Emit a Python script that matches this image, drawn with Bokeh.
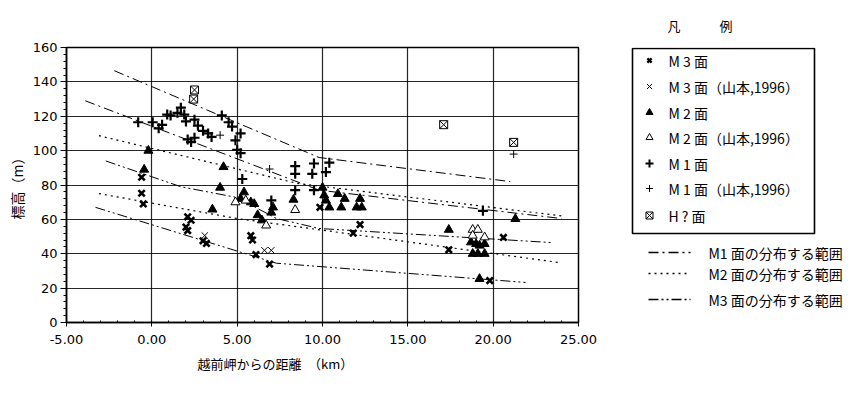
from bokeh.plotting import figure
from bokeh.layouts import row
from bokeh.models import Range1d, FixedTicker, NumeralTickFormatter, Title
from bokeh.core.properties import value
from bokeh.embed import file_html
from bokeh.resources import INLINE

# ---------------- data ----------------
x_ticks = [-5, 0, 5, 10, 15, 20, 25]
x_minor = list(range(-5, 26))
y_ticks = [0, 20, 40, 60, 80, 100, 120, 140, 160]
y_minor = list(range(0, 161, 4))
x_grid = [0, 5, 10, 15, 20]

x_label = "越前岬からの距離　（km）"
y_label = "標高（m）"
legend_title = "凡　　　例"

# M3面 (filled bold x)
m3_x = [-0.6, -0.6, -0.5, 2.1, 2.3, 2.0, 2.1, 3.0, 3.2, 5.8, 5.9, 6.1, 6.9, 9.85, 11.8, 12.2, 17.4, 19.8, 20.6]
m3_y = [84.5, 75.2, 69.0, 61.5, 59.5, 55.5, 53.5, 47.5, 46.0, 50.5, 48.0, 39.5, 34.0, 67.0, 52.0, 57.0, 42.3, 24.4, 49.5]
# M3面（山本,1996）
m3y_x = [3.1, 6.6, 7.0]
m3y_y = [50.6, 42.0, 42.0]
# M2面
m2_x = [-0.2, -0.45, 4.2, 4.0, 3.55, 5.4, 5.2, 5.8, 6.0, 6.2, 6.45, 7.0, 7.1, 8.3, 10.0, 10.1, 10.2, 10.4,
        10.9, 11.3, 11.1, 12.2, 12.0, 12.3, 17.4, 21.3, 18.7, 19.0, 19.2, 19.5, 18.8, 19.1, 19.5, 19.2]
m2_y = [100, 89, 90.5, 78.5, 65.8, 75.8, 72, 70, 69, 62.5, 59.5, 64, 67, 71.5, 78.5, 74, 71, 67,
        74.8, 72, 67, 72, 67, 67, 54, 60.3, 46.7, 45.7, 44.8, 45.7, 40, 40, 40, 25.4]
# M2面（山本,1996）
m2y_x = [4.9, 5.5, 6.7, 8.4, 18.8, 19.1, 19.5, 18.8]
m2y_y = [70, 71, 56.5, 65.5, 54, 54, 49.6, 50.6]
# M1面
m1_x = [-0.8, 0.05, 0.4, 0.6, 0.9, 1.1, 1.5, 1.7, 1.9, 2.0, 2.5, 2.7, 3.0, 2.1, 2.5, 2.3, 3.3, 3.5,
        4.1, 4.5, 4.7, 5.2, 4.9, 5.0, 5.2, 5.3, 7.0, 8.4, 8.4, 8.4, 9.4, 9.5, 9.5, 10.2, 10.4, 19.4]
m1_y = [116.5, 116.5, 113, 115, 121, 120.5, 122, 125, 121, 117, 118, 114.5, 111.5, 106.5, 107.5, 105, 110, 108,
        120.5, 116.5, 114, 110, 106, 100.5, 98.5, 83.5, 71, 91, 86.5, 77, 86.5, 92.5, 77, 87.5, 93, 65]
# M1面（山本,1996）
m1y_x = [4.0, 6.9, 21.2]
m1y_y = [109, 89.3, 98]
# H?面
h_x = [2.45, 2.5, 17.1, 21.2]
h_y = [130, 135.3, 115.1, 104.8]

# ranges (upper / lower bounds)
m1_up_x = [-2.2, 9.8, 21.0]
m1_up_y = [146.5, 96, 82]
m1_lo_x = [-3.9, 9.8, 24.0]
m1_lo_y = [129, 77, 60.5]
m2_up_x = [-3.1, 8.5, 24.0]
m2_up_y = [108.7, 81, 62]
m2_lo_x = [-3.1, 5.0, 23.8]
m2_lo_y = [75, 60.5, 35]
m3_up_x = [-2.7, 1.7, 5.0, 7.3, 9.8, 23.4]
m3_up_y = [94, 79, 72.7, 60.5, 54.7, 46.5]
m3_lo_x = [-3.3, 7.3, 21.9]
m3_lo_y = [67, 34.5, 23.3]

legend_labels = ["M 3 面", "M 3 面（山本,1996）", "M 2 面", "M 2 面（山本,1996）",
                 "M 1 面", "M 1 面（山本,1996）", "H ? 面"]
range_labels = ["M1 面の分布する範囲", "M2 面の分布する範囲", "M3 面の分布する範囲"]

# ---------------- styles ----------------
K = "black"
JP = value("Noto Sans CJK JP")
DASH_M1 = "10 4 2 4"
DASH_M2 = "2 4"
DASH_M3 = "10 3 2 3 2 3"

# ---------------- main plot ----------------
p = figure(frame_width=512, frame_height=275, min_border_left=66, min_border_top=47,
           min_border_right=22, min_border_bottom=52,
           x_range=Range1d(-5, 25), y_range=Range1d(0, 160),
           output_backend="svg", toolbar_location=None, background_fill_color="white")
p.outline_line_color = K
p.outline_line_width = 1.5

p.xaxis.ticker = FixedTicker(ticks=x_ticks, minor_ticks=x_minor)
p.xaxis.formatter = NumeralTickFormatter(format="0.00")
p.yaxis.ticker = FixedTicker(ticks=y_ticks, minor_ticks=y_minor)
for ax in (p.xaxis, p.yaxis):
    ax.major_label_text_font = "DejaVu Sans"
    ax.major_label_text_font_size = "13px"
    ax.major_label_text_color = K
    ax.axis_line_color = K
    ax.axis_line_width = 1.5
    ax.major_tick_line_color = K
    ax.minor_tick_line_color = K
    ax.major_tick_in = 0
p.xaxis.major_tick_out = 4
p.xaxis.minor_tick_in = 2
p.xaxis.minor_tick_out = 0
p.xaxis.major_label_standoff = 8
p.yaxis.major_tick_out = 6
p.yaxis.minor_tick_in = 0
p.yaxis.minor_tick_out = 3
p.yaxis.major_label_standoff = 3

p.xgrid.ticker = FixedTicker(ticks=x_grid)
p.ygrid.ticker = FixedTicker(ticks=y_ticks)
p.grid.grid_line_color = K
p.grid.grid_line_width = 1.2
p.grid.grid_line_alpha = 0.85

p.add_layout(Title(text=y_label, align="center", offset=-10, text_font="Noto Sans CJK JP",
                   text_font_size="14px", text_font_style="normal", text_color=K, standoff=6), "left")
p.add_layout(Title(text=x_label, align="left", offset=131, text_font="Noto Sans CJK JP",
                   text_font_size="13px", text_font_style="normal", text_color=K), "below")

# range lines
p.line(m1_up_x, m1_up_y, line_color=K, line_width=1, line_dash=DASH_M1)
p.line(m1_lo_x, m1_lo_y, line_color=K, line_width=1, line_dash=DASH_M1)
p.line(m2_up_x, m2_up_y, line_color=K, line_width=1.2, line_dash=DASH_M2)
p.line(m2_lo_x, m2_lo_y, line_color=K, line_width=1.2, line_dash=DASH_M2)
p.line(m3_up_x, m3_up_y, line_color=K, line_width=1, line_dash=DASH_M3)
p.line(m3_lo_x, m3_lo_y, line_color=K, line_width=1, line_dash=DASH_M3)

# markers
p.scatter(m3_x, m3_y, marker="x", size=9, line_width=2.6, line_color=K)
p.scatter(m3y_x, m3y_y, marker="x", size=9, line_width=1, line_color=K)
p.scatter(m2_x, m2_y, marker="triangle", size=9, fill_color=K, line_color=K)
p.scatter(m2y_x, m2y_y, marker="triangle", size=9, fill_color="white", line_color=K, line_width=1)
p.scatter(m1_x, m1_y, marker="cross", size=10, line_width=2.2, line_color=K)
p.scatter(m1y_x, m1y_y, marker="cross", size=8, line_width=1, line_color=K)
p.scatter(h_x, h_y, marker="square_x", size=8, fill_color="white", line_color=K, line_width=1)

# ---------------- legend panel (coordinates = page pixels) ----------------
q = figure(frame_width=252, frame_height=275, min_border_left=0, min_border_right=0,
           min_border_top=47, min_border_bottom=52,
           x_range=Range1d(600, 852), y_range=Range1d(322, 47),
           x_axis_type=None, y_axis_type=None, output_backend="svg", toolbar_location=None)
q.outline_line_color = None
q.grid.visible = False
q.add_layout(Title(text=legend_title, align="left", offset=67, text_font="Noto Sans CJK JP",
                   text_font_size="13px", text_font_style="normal", text_color=K, standoff=26), "above")

q.quad(left=[632], right=[814], top=[48], bottom=[233], fill_color=None, line_color=K, line_width=1.6)

rows_y = [60, 86, 112, 137, 163, 188, 215]
mx = 649
q.scatter([mx], [rows_y[0]], marker="x", size=6, line_width=2.2, line_color=K)
q.scatter([mx], [rows_y[1]], marker="x", size=7, line_width=1, line_color=K)
q.scatter([mx], [rows_y[2]], marker="triangle", size=7, fill_color=K, line_color=K)
q.scatter([mx], [rows_y[3]], marker="triangle", size=7, fill_color="white", line_color=K, line_width=1)
q.scatter([mx], [rows_y[4]], marker="cross", size=8, line_width=2, line_color=K)
q.scatter([mx], [rows_y[5]], marker="cross", size=7, line_width=1, line_color=K)
q.scatter([mx], [rows_y[6]], marker="square_x", size=7, fill_color="white", line_color=K, line_width=1)
q.text(x=[668] * 7, y=rows_y, text=legend_labels, text_font=JP, text_font_size="14px",
       text_align="left", text_baseline="middle", text_color=K)

ly = [252, 273, 299]
for yy, dash in zip(ly, [DASH_M1, DASH_M2, DASH_M3]):
    q.line([648, 690], [yy, yy], line_color=K, line_width=1.5, line_dash=dash)
q.text(x=[708] * 3, y=ly, text=range_labels, text_font=JP, text_font_size="14px",
       text_align="left", text_baseline="middle", text_color=K)

layout = row(p, q)
open("out.html", "w").write(file_html(layout, INLINE))
